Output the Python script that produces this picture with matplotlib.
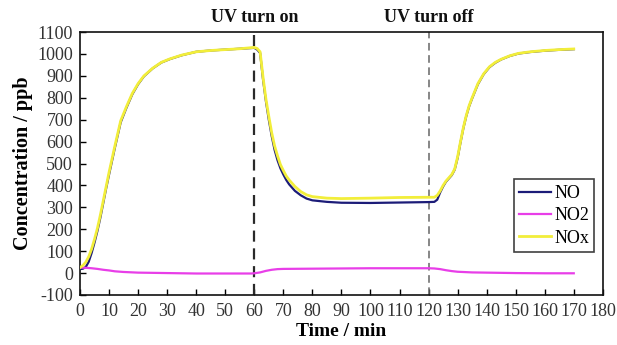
import matplotlib
matplotlib.use("Agg")
import matplotlib.pyplot as plt
import matplotlib.transforms as mtransforms

plt.rcParams['font.family'] = ['Liberation Serif', 'DejaVu Serif']
plt.rcParams['axes.unicode_minus'] = False

# Time axis (min) and concentrations (ppb)
t_nox = [0, 1, 2, 3, 4, 5, 6, 7, 8, 9, 10, 12, 14, 16, 18, 20, 22, 25, 28, 31, 35, 40, 45, 50, 55, 60,
         61, 62, 63, 64, 65, 66, 67, 68, 69, 70, 71, 72, 74, 76, 78, 80, 85, 90, 100, 110, 120,
         122, 123, 124, 125, 126, 127, 128, 129, 130, 131, 132, 133, 134, 135, 137, 139, 141, 143,
         145, 148, 151, 155, 160, 165, 170]
nox = [25, 35, 50, 75, 110, 155, 205, 265, 330, 395, 460, 580, 695, 760, 820, 865, 900, 935, 962, 978,
       995, 1010, 1016, 1020, 1024, 1030,
       1025, 1010, 895, 795, 715, 640, 580, 535, 495, 468, 443, 425, 395, 372, 357, 349, 342, 340,
       342, 345, 346,
       346, 355, 375, 400, 420, 435, 450, 475, 530, 600, 665, 720, 765, 800, 865, 910, 942, 962,
       976, 992, 1003, 1010, 1016, 1020, 1023]

t_no = [0, 1, 2, 3, 4, 5, 6, 7, 8, 9, 10, 12, 14, 16, 18, 20, 22, 25, 28, 31, 35, 40, 45, 50, 55, 60,
        61, 62, 63, 64, 65, 66, 67, 68, 69, 70, 71, 72, 74, 76, 78, 80, 85, 90, 100, 110, 120,
        122, 123, 124, 125, 126, 127, 128, 129, 130, 131, 132, 133, 134, 135, 137, 139, 141, 143,
        145, 148, 151, 155, 160, 165, 170]
no = [18, 20, 28, 52, 92, 140, 193, 253, 320, 387, 450, 572, 688, 755, 816, 862, 898, 934, 961, 977,
      994, 1010, 1016, 1020, 1024, 1028,
      1020, 1005, 885, 785, 700, 625, 562, 515, 478, 450, 425, 405, 375, 355, 340, 332, 325, 321,
      320, 322, 324,
      325, 335, 368, 395, 417, 432, 447, 472, 525, 596, 662, 717, 762, 797, 862, 908, 940, 960,
      975, 991, 1002, 1009, 1015, 1019, 1022]

t_no2 = [0, 2, 4, 6, 8, 10, 12, 15, 20, 30, 40, 50, 59, 60, 62, 64, 66, 68, 70, 80, 90, 100, 110, 120,
         122, 124, 126, 128, 130, 135, 140, 150, 160, 170]
no2 = [25, 24, 22, 19, 15, 12, 8, 5, 2, 0, -2, -2, -2, -1, 3, 10, 15, 18, 19, 20, 21, 22, 22, 22,
       21, 18, 13, 9, 6, 3, 2, 0, -1, -1]

events = [(60, 'UV turn on'), (120, 'UV turn off')]

x_ticks = list(range(0, 181, 10))
y_ticks = list(range(-100, 1101, 100))

fig = plt.figure(figsize=(6.17, 3.45), dpi=100)
ax = fig.add_axes([0.1297, 0.145, 0.8473, 0.762])

ax.plot(t_no, no, color='#1c1c78', lw=1.6, label='NO', zorder=3)
ax.plot(t_no2, no2, color='#e83ee8', lw=1.6, label='NO2', zorder=3)
ax.plot(t_nox, nox, color='#f2ee3a', lw=2.0, label='NOx', zorder=4)

ax.axvline(events[0][0], color='#2a2a2a', lw=1.6, ls=(0, (5, 3)), zorder=2)
ax.axvline(events[1][0], color='#666666', lw=1.1, ls=(0, (5, 3)), zorder=2)

trans = mtransforms.blended_transform_factory(ax.transData, ax.transAxes)
for x, txt in events:
    ax.text(x, 1.055, txt, transform=trans, ha='center', va='center',
            fontsize=13, fontweight='bold', color='#111111')

ax.set_xlim(0, 180)
ax.set_ylim(-100, 1100)
ax.set_xticks(x_ticks)
ax.set_yticks(y_ticks)
ax.tick_params(direction='in', length=4, width=1, labelsize=13, labelcolor='#333333',
               top=False, right=False)
ax.tick_params(axis='x', pad=6)
ax.tick_params(axis='y', pad=5)
for s in ax.spines.values():
    s.set_linewidth(1.2)
    s.set_color('#111111')

ax.set_xlabel('Time / min', fontsize=14, fontweight='bold', labelpad=2)
ax.set_ylabel('Concentration / ppb', fontsize=14.5, fontweight='bold', labelpad=3)

leg = ax.legend(loc='lower right', bbox_to_anchor=(0.984, 0.163), fontsize=13,
                frameon=True, fancybox=False, handlelength=1.75, handletextpad=0.2,
                borderpad=0.3, labelspacing=0.3, borderaxespad=0)
leg.get_frame().set_edgecolor('#111111')
leg.get_frame().set_linewidth(1.2)

fig.savefig('out.png', dpi=100)
